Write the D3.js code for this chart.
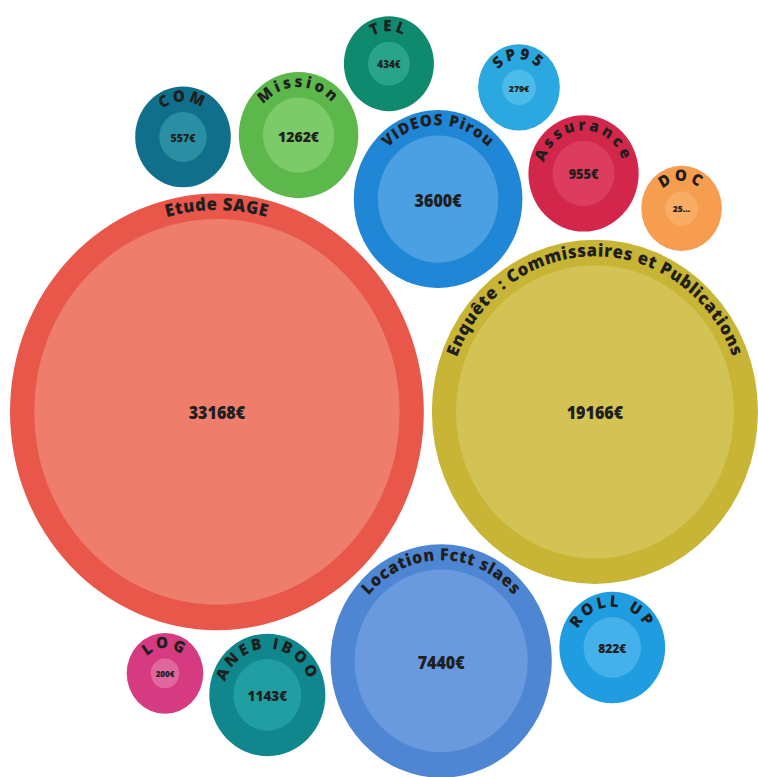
<!DOCTYPE html>
<html>
<head>
<meta charset="utf-8">
<script src="https://cdn.jsdelivr.net/npm/d3@7"></script>
<style>
  body { margin: 0; background: #fff; }
  text { font-family: "Open Sans", sans-serif; }
</style>
</head>
<body>
<svg id="chart"></svg>
<script>
const svgWidth = 758, svgHeight = 777;

// data (DOC's amount is cut off in the picture, size estimated)
const labels = ["Etude SAGE", "Enquête : Commissaires et Publications", "Location Fctt slaes",
  "VIDEOS Pirou", "Mission", "ANEB IBOO", "Assurance", "ROLL UP", "COM", "TEL", "LOG", "SP95", "DOC"];
const amounts = [33168, 19166, 7440, 3600, 1262, 1143, 955, 822, 557, 434, 200, 279, 260];
const amountLabels = ["33168€", "19166€", "7440€", "3600€", "1262€", "1143€", "955€", "822€",
  "557€", "434€", "200€", "279€", "25..."];

const outerColors = ["#e9564a", "#c8b535", "#4f86d4", "#1f87d6", "#5db84b", "#0f878d", "#d2264b",
  "#1f9de0", "#10708b", "#0f8a6f", "#d63b82", "#2ba8e0", "#f79d4f"];
const innerColors = ["#ee7e6b", "#d3c354", "#6a9ade", "#4aa0e3", "#7dca69", "#219ea2", "#dc3c5d",
  "#44b1ea", "#2b8fa3", "#29a48a", "#e0679d", "#4dbbe8", "#f9ac64"];

const svg = d3.select("#chart")
  .attr("width", svgWidth)
  .attr("height", svgHeight);

const ring = 24;
const rScale = d3.scaleSqrt()
  .domain([0, d3.max(amounts)])
  .range([0, 182]);

const nodes = labels.map((label, i) => ({
  label,
  text: amountLabels[i],
  inner: rScale(amounts[i]),
  outer: rScale(amounts[i]) + ring,
  r: rScale(amounts[i]) + ring + 4,
  i
}));

d3.packSiblings(nodes);

const minX = d3.min(nodes, d => d.x - d.r), maxX = d3.max(nodes, d => d.x + d.r);
const minY = d3.min(nodes, d => d.y - d.r), maxY = d3.max(nodes, d => d.y + d.r);

// the picture is a little taller than wide, so x and y are fitted separately
const x = d3.scaleLinear().domain([minX, maxX]).range([6, 762]);
const y = d3.scaleLinear().domain([minY, maxY]).range([12, 782]);
const kx = (x(maxX) - x(minX)) / (maxX - minX);
const ky = (y(maxY) - y(minY)) / (maxY - minY);

const bubbles = svg.selectAll(".bubble")
  .data(nodes)
  .enter()
  .append("g")
  .attr("class", "bubble")
  .attr("transform", d => `translate(${x(d.x)},${y(d.y)}) scale(${kx},${ky})`);

bubbles.append("circle")
  .attr("r", d => d.outer)
  .attr("fill", d => outerColors[d.i]);

bubbles.append("circle")
  .attr("r", d => d.inner)
  .attr("fill", d => innerColors[d.i]);

const labelSize = d => d.outer > 150 ? 16.5 : d.outer > 100 ? 16 : 15;

// arc for the curved label, running clockwise from bottom so the top sits at 50%
bubbles.append("path")
  .attr("id", d => `arc${d.i}`)
  .attr("fill", "none")
  .attr("d", d => {
    const r = d.outer - labelSize(d) * 0.95;
    return `M0,${r} A${r},${r} 0 1,1 0,${-r} A${r},${r} 0 1,1 0,${r}`;
  });

bubbles.append("text")
  .attr("font-size", labelSize)
  .attr("font-weight", 800)
  .attr("fill", "#1f1f1f")
  .attr("letter-spacing", d => d.outer < 60 ? 3 : d.outer < 100 ? 1 : 0.6)
  .append("textPath")
  .attr("href", d => `#arc${d.i}`)
  .attr("startOffset", "50%")
  .attr("text-anchor", "middle")
  .text(d => d.label);

bubbles.append("text")
  .attr("class", "amount")
  .attr("text-anchor", "middle")
  .attr("dy", "0.45em")
  .attr("font-size", d => Math.min(16, 4 + d.inner * 0.28))
  .attr("font-weight", 800)
  .attr("fill", "#1f1f1f")
  .text(d => d.text);
</script>
</body>
</html>
